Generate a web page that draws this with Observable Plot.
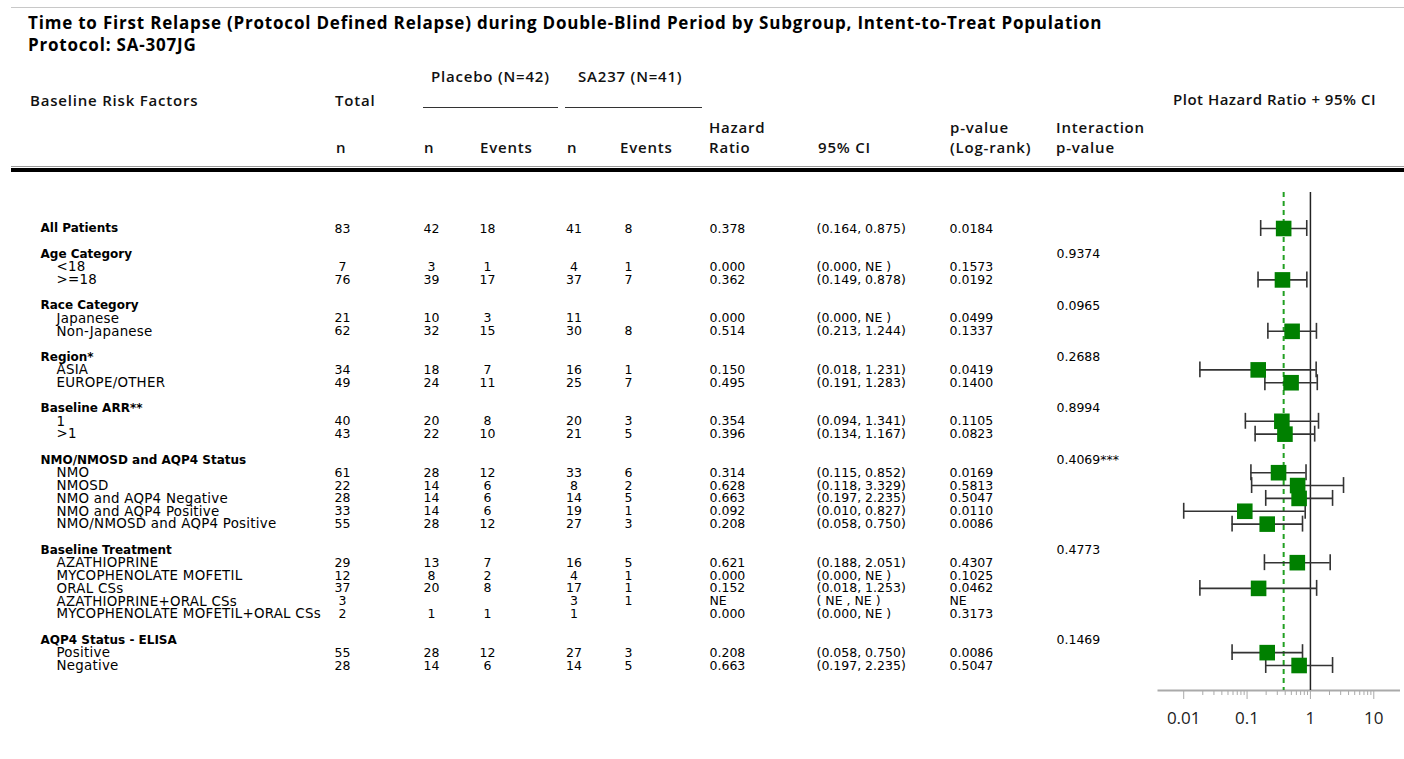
<!DOCTYPE html>
<html>
<head>
<meta charset="utf-8">
<script src="https://cdn.jsdelivr.net/npm/d3@7"></script>
<script src="https://cdn.jsdelivr.net/npm/@observablehq/plot@0.6"></script>
<style>
  html, body { margin: 0; padding: 0; background: #fff; }
  #page { position: relative; width: 1404px; height: 759px; overflow: hidden; background: #fff; }
  .hd { position: absolute; font-family: "Open Sans", sans-serif; font-weight: 600; font-size: 15px;
        line-height: 15px; letter-spacing: 0.8px; color: #111; white-space: nowrap; }
  .title { font-weight: 700; font-size: 17px; letter-spacing: 0.8px; color: #000; }
  .tight { letter-spacing: 0.5px; }
  .rule { position: absolute; }
  .layer { position: absolute; top: 180px; }
</style>
</head>
<body>
<div id="page"></div>
<script>
// ---- Subgroup rows (one entry per printed line; "" marks a spacer line) ----
const rowLabel = ["All Patients", "", "Age Category", "<18", ">=18", "", "Race Category", "Japanese", "Non-Japanese", "",
  "Region*", "ASIA", "EUROPE/OTHER", "", "Baseline ARR**", "1", ">1", "",
  "NMO/NMOSD and AQP4 Status", "NMO", "NMOSD", "NMO and AQP4 Negative", "NMO and AQP4 Positive", "NMO/NMOSD and AQP4 Positive", "",
  "Baseline Treatment", "AZATHIOPRINE", "MYCOPHENOLATE MOFETIL", "ORAL CSs", "AZATHIOPRINE+ORAL CSs", "MYCOPHENOLATE MOFETIL+ORAL CSs", "",
  "AQP4 Status - ELISA", "Positive", "Negative"];
const groupLabels = ["All Patients", "Age Category", "Race Category", "Region*", "Baseline ARR**",
  "NMO/NMOSD and AQP4 Status", "Baseline Treatment", "AQP4 Status - ELISA"];

const totalN        = [83, null, null, 7, 76, null, null, 21, 62, null, null, 34, 49, null, null, 40, 43, null, null, 61, 22, 28, 33, 55, null, null, 29, 12, 37, 3, 2, null, null, 55, 28];
const placeboN      = [42, null, null, 3, 39, null, null, 10, 32, null, null, 18, 24, null, null, 20, 22, null, null, 28, 14, 14, 14, 28, null, null, 13, 8, 20, null, 1, null, null, 28, 14];
const placeboEvents = [18, null, null, 1, 17, null, null, 3, 15, null, null, 7, 11, null, null, 8, 10, null, null, 12, 6, 6, 6, 12, null, null, 7, 2, 8, null, 1, null, null, 12, 6];
const sa237N        = [41, null, null, 4, 37, null, null, 11, 30, null, null, 16, 25, null, null, 20, 21, null, null, 33, 8, 14, 19, 27, null, null, 16, 4, 17, 3, 1, null, null, 27, 14];
const sa237Events   = [8, null, null, 1, 7, null, null, null, 8, null, null, 1, 7, null, null, 3, 5, null, null, 6, 2, 5, 1, 3, null, null, 5, 1, 1, 1, null, null, null, 3, 5];
// NaN = not estimable (NE)
const hazardRatio   = [0.378, null, null, 0.000, 0.362, null, null, 0.000, 0.514, null, null, 0.150, 0.495, null, null, 0.354, 0.396, null, null, 0.314, 0.628, 0.663, 0.092, 0.208, null, null, 0.621, 0.000, 0.152, NaN, 0.000, null, null, 0.208, 0.663];
const ciLower       = [0.164, null, null, 0.000, 0.149, null, null, 0.000, 0.213, null, null, 0.018, 0.191, null, null, 0.094, 0.134, null, null, 0.115, 0.118, 0.197, 0.010, 0.058, null, null, 0.188, 0.000, 0.018, NaN, 0.000, null, null, 0.058, 0.197];
const ciUpper       = [0.875, null, null, NaN, 0.878, null, null, NaN, 1.244, null, null, 1.231, 1.283, null, null, 1.341, 1.167, null, null, 0.852, 3.329, 2.235, 0.827, 0.750, null, null, 2.051, NaN, 1.253, NaN, NaN, null, null, 0.750, 2.235];
const pLogRank      = [0.0184, null, null, 0.1573, 0.0192, null, null, 0.0499, 0.1337, null, null, 0.0419, 0.1400, null, null, 0.1105, 0.0823, null, null, 0.0169, 0.5813, 0.5047, 0.0110, 0.0086, null, null, 0.4307, 0.1025, 0.0462, NaN, 0.3173, null, null, 0.0086, 0.5047];
const pInteraction  = [null, null, "0.9374", null, null, null, "0.0965", null, null, null, "0.2688", null, null, null, "0.8994", null, null, null, "0.4069***", null, null, null, null, null, null, "0.4773", null, null, null, null, null, null, "0.1469", null, null];

// ---- Axis ticks for the hazard-ratio panel ----
const majorTicks = [0.01, 0.1, 1, 10];
const minorTicks = [0.02, 0.03, 0.04, 0.05, 0.06, 0.07, 0.08, 0.09, 0.2, 0.3, 0.4, 0.5, 0.6, 0.7, 0.8, 0.9, 2, 3, 4, 5, 6, 7, 8, 9];

// ---- Page text ----
const titleLines = ["Time to First Relapse (Protocol Defined Relapse) during Double-Blind Period by Subgroup, Intent-to-Treat Population",
  "Protocol: SA-307JG"];
const headerCells = [
  {text: "Placebo (N=42)", x: 431, base: 82},
  {text: "SA237 (N=41)", x: 578, base: 82},
  {text: "Baseline Risk Factors", x: 30, base: 106},
  {text: "Total", x: 335, base: 106},
  {text: "Plot Hazard Ratio + 95% CI", x: 1173, base: 105, cls: "tight"},
  {text: "Hazard", x: 709, base: 133},
  {text: "p-value", x: 950, base: 133},
  {text: "Interaction", x: 1056, base: 133},
  {text: "n", x: 336, base: 153},
  {text: "n", x: 424, base: 153},
  {text: "Events", x: 480, base: 153},
  {text: "n", x: 567, base: 153},
  {text: "Events", x: 620, base: 153},
  {text: "Ratio", x: 709, base: 153},
  {text: "95% CI", x: 818, base: 153},
  {text: "(Log-rank)", x: 950, base: 153},
  {text: "p-value", x: 1056, base: 153}
];

// ---- Build row records ----
const rows = rowLabel.map((label, i) => ({
  slot: i,
  label,
  group: groupLabels.includes(label),
  total: totalN[i], pn: placeboN[i], pe: placeboEvents[i], sn: sa237N[i], se: sa237Events[i],
  hr: hazardRatio[i], lo: ciLower[i], hi: ciUpper[i], p: pLogRank[i], pint: pInteraction[i]
}));

const cnt = v => v == null ? "" : String(v);
const f3 = v => v == null ? "" : Number.isNaN(v) ? "NE" : v.toFixed(3);
const f4 = v => v == null ? "" : Number.isNaN(v) ? "NE" : v.toFixed(4);
const ci = d => d.lo == null ? "" :
  `(${Number.isNaN(d.lo) ? " NE " : d.lo.toFixed(3)}, ${Number.isNaN(d.hi) ? "NE " : d.hi.toFixed(3)})`;

const page = document.getElementById("page");

// Top hairline, header underlines and the heavy rule under the header
function bar(left, top, width, height, color) {
  const el = document.createElement("div");
  el.className = "rule";
  Object.assign(el.style, {left: left + "px", top: top + "px", width: width + "px", height: height + "px", background: color});
  page.appendChild(el);
}
bar(11, 7, 1393, 1, "#c8c8c8");
bar(423, 106.5, 135, 1.2, "#333");
bar(565, 106.5, 137, 1.2, "#333");
bar(11, 166, 1393, 1, "#9a9a9a");
bar(11, 168, 1393, 4, "#000");

// Text placed by baseline (Open Sans in a 15px line box: baseline ≈ top + 13.3, scaled by font size)
function label(text, x, base, extra, size = 15) {
  const el = document.createElement("div");
  el.className = "hd" + (extra ? " " + extra : "");
  el.textContent = text;
  el.style.left = x + "px";
  el.style.lineHeight = size + "px";
  el.style.top = (base - 13.3 * size / 15) + "px";
  page.appendChild(el);
}
label(titleLines[0], 28, 29, "title", 17);
label(titleLines[1], 28, 50.7, "title", 17);
headerCells.forEach(h => label(h.text, h.x, h.base, h.cls));

// Shared vertical layout for the table body and the forest panel
const yScale = {domain: [0, rowLabel.length - 1], range: [48, 485], axis: null};

// Column anchors of the table body
const col = {group: 40, item: 56, total: 342, pn: 431, pe: 487, sn: 573.5, se: 628, hr: 709, ci: 816, p: 949, pint: 1056};

const body = rows.filter(d => d.label !== "");
const textStyle = {fontFamily: "DejaVu Sans", fontSize: 12.5, fill: "#000", y: "slot"};

const table = Plot.plot({
  width: 1150, height: 579,
  margin: 0,
  x: {domain: [0, 1150], range: [0, 1150], axis: null},
  y: yScale,
  style: {background: "transparent", overflow: "visible"},
  marks: [
    Plot.text(body.filter(d => d.group), {...textStyle, x: col.group, text: "label", textAnchor: "start", fontWeight: "bold", fontSize: 12}),
    Plot.text(body.filter(d => !d.group), {...textStyle, x: col.item, text: "label", textAnchor: "start", fontSize: 13.4}),
    Plot.text(body, {...textStyle, x: col.total, text: d => cnt(d.total)}),
    Plot.text(body, {...textStyle, x: col.pn, text: d => cnt(d.pn)}),
    Plot.text(body, {...textStyle, x: col.pe, text: d => cnt(d.pe)}),
    Plot.text(body, {...textStyle, x: col.sn, text: d => cnt(d.sn)}),
    Plot.text(body, {...textStyle, x: col.se, text: d => cnt(d.se)}),
    Plot.text(body, {...textStyle, x: col.hr, text: d => f3(d.hr), textAnchor: "start"}),
    Plot.text(body, {...textStyle, x: col.ci, text: ci, textAnchor: "start"}),
    Plot.text(body, {...textStyle, x: col.p, text: d => f4(d.p), textAnchor: "start"}),
    Plot.text(body, {...textStyle, x: col.pint, text: d => d.pint ?? "", textAnchor: "start"})
  ]
});
// the subgroup labels are set a little wider
const textLayers = table.querySelectorAll('g[aria-label="text"]');
if (textLayers[1]) textLayers[1].style.letterSpacing = "0.25px";
table.classList.add("layer");
table.style.left = "0px";
page.appendChild(table);

// Forest panel: estimable hazard ratios on a log axis
const estimable = rows.filter(d => d.hr > 0 && Number.isFinite(d.hr));
const overallHR = rows[0].hr;
const capHalf = 0.62;

const forest = Plot.plot({
  width: 254, height: 579,
  marginLeft: 8, marginRight: 5.5, marginTop: 12, marginBottom: 69,
  x: {type: "log", domain: [0.004, 25]},
  y: yScale,
  style: {background: "transparent", fontFamily: "Open Sans", overflow: "visible"},
  marks: [
    Plot.frame({anchor: "bottom", stroke: "#aaa", strokeWidth: 2}),
    Plot.axisX({ticks: minorTicks, tickSize: 5, tickFormat: () => "", stroke: "#aaa", label: null}),
    Plot.axisX({ticks: majorTicks, tickSize: 9, tickPadding: 12, tickFormat: d3.format("~g"),
      stroke: "#aaa", fill: "#222", fontSize: 17, label: null}),
    Plot.ruleX([1], {stroke: "#222", strokeWidth: 1.5}),
    Plot.ruleX([overallHR], {stroke: "#22a022", strokeWidth: 2, strokeDasharray: "5,4"}),
    Plot.ruleY(estimable, {y: "slot", x1: "lo", x2: "hi", stroke: "#333", strokeWidth: 1.6}),
    Plot.ruleX(estimable, {x: "lo", y1: d => d.slot - capHalf, y2: d => d.slot + capHalf, stroke: "#333", strokeWidth: 1.6}),
    Plot.ruleX(estimable, {x: "hi", y1: d => d.slot - capHalf, y2: d => d.slot + capHalf, stroke: "#333", strokeWidth: 1.6}),
    Plot.dot(estimable, {x: "hr", y: "slot", symbol: "square", r: 8.8, fill: "#008000", stroke: "none"})
  ]
});
forest.classList.add("layer");
forest.style.left = "1150px";
page.appendChild(forest);
</script>
</body>
</html>
